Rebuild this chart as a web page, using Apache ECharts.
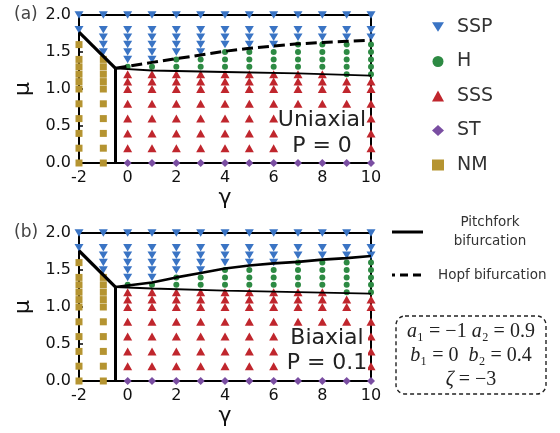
<!DOCTYPE html>
<html><head><meta charset="utf-8">
<script src="https://cdn.jsdelivr.net/npm/echarts@6/dist/echarts.min.js"></script>
<style>html,body{margin:0;padding:0;background:#fff}#c{width:560px;height:433px}</style>
</head><body><div id="c"></div>
<script>
// ---------- data ----------
// each entry: [gamma, [mu values in that column]]
const SSP_A = [[-2,[2.0,1.8]],[-1,[2.0,1.8,1.7,1.6,1.5]],[0,[2.0,1.8,1.7,1.6,1.5,1.4]],[1,[2.0,1.8,1.7,1.6,1.5,1.4]],
  [2,[2.0,1.8,1.7,1.6,1.5]],[3,[2.0,1.8,1.7,1.6,1.5]],[4,[2.0,1.8,1.7,1.6]],[5,[2.0,1.8,1.7,1.6]],[6,[2.0,1.8,1.7,1.6]],
  [7,[2.0,1.8,1.7]],[8,[2.0,1.8,1.7]],[9,[2.0,1.8,1.7]],[10,[2.0,1.8,1.7]]];
const H_A = [[0,[1.3]],[1,[1.3]],[2,[1.4,1.3]],[3,[1.4,1.3]],[4,[1.5,1.4,1.3]],[5,[1.5,1.4,1.3]],[6,[1.5,1.4,1.3]],
  [7,[1.6,1.5,1.4,1.3]],[8,[1.6,1.5,1.4,1.3]],[9,[1.6,1.5,1.4,1.3,1.2]],[10,[1.6,1.5,1.4,1.3,1.2]]];
const SSS_A = [[0,[1.2,1.1,1.0,0.8,0.6,0.4,0.2]],[1,[1.2,1.1,1.0,0.8,0.6,0.4,0.2]],[2,[1.2,1.1,1.0,0.8,0.6,0.4,0.2]],
  [3,[1.2,1.1,1.0,0.8,0.6,0.4,0.2]],[4,[1.2,1.1,1.0,0.8,0.6,0.4,0.2]],[5,[1.2,1.1,1.0,0.8,0.6,0.4,0.2]],
  [6,[1.2,1.1,1.0,0.8,0.6,0.4,0.2]],[7,[1.2,1.1,1.0,0.8,0.6,0.4,0.2]],[8,[1.2,1.1,1.0,0.8,0.6,0.4,0.2]],
  [9,[1.1,1.0,0.8,0.6,0.4,0.2]],[10,[1.1,1.0,0.8,0.6,0.4,0.2]]];
const ST_A = [[0,[0]],[1,[0]],[2,[0]],[3,[0]],[4,[0]],[5,[0]],[6,[0]],[7,[0]],[8,[0]],[9,[0]],[10,[0]]];
const NM_A = [[-2,[1.6,1.4,1.3,1.2,1.1,1.0,0.8,0.6,0.4,0.2,0]],[-1,[1.4,1.3,1.2,1.1,1.0,0.8,0.6,0.4,0.2,0]]];

const SSP_B = [[-2,[2.0,1.8]],[-1,[2.0,1.8,1.7,1.6,1.5]],[0,[2.0,1.8,1.7,1.6,1.5,1.4]],[1,[2.0,1.8,1.7,1.6,1.5,1.4]],
  [2,[2.0,1.8,1.7,1.6,1.5]],[3,[2.0,1.8,1.7,1.6,1.5]],[4,[2.0,1.8,1.7,1.6]],[5,[2.0,1.8,1.7,1.6]],[6,[2.0,1.8,1.7,1.6]],
  [7,[2.0,1.8,1.7]],[8,[2.0,1.8,1.7]],[9,[2.0,1.8,1.7]],[10,[2.0,1.8,1.7]]];
const H_B = [[0,[1.3]],[1,[1.3]],[2,[1.4,1.3]],[3,[1.4,1.3]],[4,[1.5,1.4,1.3]],[5,[1.5,1.4,1.3]],[6,[1.5,1.4,1.3]],
  [7,[1.6,1.5,1.4,1.3]],[8,[1.6,1.5,1.4,1.3]],[9,[1.6,1.5,1.4,1.3,1.2]],[10,[1.6,1.5,1.4,1.3,1.2]]];
const SSS_B = SSS_A.map(c => [c[0], c[1].slice()]);
const ST_B = ST_A.map(c => [c[0], c[1].slice()]);
const NM_B = [[-2,[1.6,1.4,1.3,1.2,1.1,1.0,0.8,0.6,0.4,0.2,0]],[-1,[1.4,1.3,1.2,1.1,1.0,0.8,0.6,0.4,0.2,0]]];

// bifurcation curves
const PITCH_LEFT_A = [[-2,1.77],[-0.5,1.28]];
const PITCH_VERT_A = [[-0.5,0],[-0.5,1.28]];
const PITCH_LOW_A  = [[-0.5,1.28],[1,1.25],[4,1.23],[7,1.21],[10,1.18]];
const HOPF_A       = [[-0.5,1.28],[1,1.36],[2,1.41],[3,1.46],[4,1.51],[5,1.55],[6,1.58],[7,1.61],[8,1.63],[9,1.645],[10,1.66]];

const PITCH_LEFT_B = [[-2,1.76],[-0.5,1.27]];
const PITCH_VERT_B = [[-0.5,0],[-0.5,1.27]];
const PITCH_LOW_B  = [[-0.5,1.27],[1,1.25],[4,1.22],[7,1.20],[10,1.18]];
const PITCH_UP_B   = [[-0.5,1.27],[1,1.33],[2,1.40],[3,1.46],[4,1.52],[5,1.56],[6,1.59],[7,1.61],[8,1.64],[9,1.66],[10,1.69]];

const X_MIN = -2, X_MAX = 10, X_STEP = 2;
const Y_MIN = 0, Y_MAX = 2, Y_STEP = 0.5;
const NAMES = ['SSP','H','SSS','ST','NM'];

// ---------- chart ----------
function expand(cols){ const out=[]; cols.forEach(c=>c[1].forEach(m=>out.push([c[0],m]))); return out; }
const FONT = 'DejaVu Sans';
const COLORS = {SSP:'#3a74c4', H:'#2d8a43', SSS:'#c0262d', ST:'#7a4ea2', NM:'#b59431'};
const DOWN_TRI = 'path://M0,0L10,0L5,8Z';
const SYM = {SSP:DOWN_TRI, H:'circle', SSS:'triangle', ST:'diamond', NM:'rect'};
const SIZE = {SSP:[9,7.5], H:6, SSS:[9,8], ST:[8,8], NM:[7,7]};

function scatterSeries(name, data, gi){
  return {type:'scatter', name, xAxisIndex:gi, yAxisIndex:gi, data:expand(data),
    symbol:SYM[name], symbolSize:SIZE[name], itemStyle:{color:COLORS[name], opacity:1},
    clip:false, z:3, silent:true, animation:false};
}
function lineSeries(data, gi, width, dashed){
  return {type:'line', xAxisIndex:gi, yAxisIndex:gi, data, symbol:'none', clip:false, z:5,
    lineStyle:{color:'#000', width, type: dashed ? [11,5] : 'solid', cap:'butt'}, silent:true, animation:false};
}
function xAxis(gi){
  return {type:'value', gridIndex:gi, min:X_MIN, max:X_MAX, interval:X_STEP,
    name:'γ', nameLocation:'middle', nameGap:8, nameTextStyle:{fontFamily:FONT, fontSize:22, color:'#111'},
    axisLine:{show:true, onZero:false, lineStyle:{color:'#000', width:2}}, axisTick:{show:false},
    axisLabel:{fontFamily:FONT, fontSize:16, color:'#111', margin:7}, splitLine:{show:false}};
}
function yAxis(gi){
  return {type:'value', gridIndex:gi, min:Y_MIN, max:Y_MAX, interval:Y_STEP,
    name:'μ', nameLocation:'middle', nameGap:26, nameRotate:90, nameTextStyle:{fontFamily:FONT, fontSize:22, color:'#111'},
    axisLine:{show:true, onZero:false, lineStyle:{color:'#000', width:2}}, axisTick:{show:true, inside:true, length:4, lineStyle:{color:'#000', width:1.5}},
    axisLabel:{fontFamily:FONT, fontSize:16, color:'#111', margin:8, formatter:v=>v.toFixed(1)}, splitLine:{show:false}};
}

const series = [];
[[SSP_A,H_A,SSS_A,ST_A,NM_A],[SSP_B,H_B,SSS_B,ST_B,NM_B]].forEach((sets,gi)=>{
  NAMES.forEach((n,i)=>series.push(scatterSeries(n, sets[i], gi)));
});
series.push(lineSeries(PITCH_LEFT_A,0,3.2,false), lineSeries(PITCH_VERT_A,0,3,false),
            lineSeries(PITCH_LOW_A,0,1.8,false), lineSeries(HOPF_A,0,3,true));
series.push(lineSeries(PITCH_LEFT_B,1,3.2,false), lineSeries(PITCH_VERT_B,1,3,false),
            lineSeries(PITCH_LOW_B,1,1.8,false), lineSeries(PITCH_UP_B,1,2.6,false));

function whiteBox(x,y,w,h){ return {type:'rect', z:9, shape:{x,y,width:w,height:h}, style:{fill:'#fff'}}; }
const chart = echarts.init(document.getElementById('c'), null, {renderer:'canvas'});
chart.setOption({
  animation:false,
  backgroundColor:'#fff',
  grid:[{left:79, top:15, width:292, height:148, show:true, borderColor:'#000', borderWidth:2, backgroundColor:'transparent'},
        {left:79, top:233, width:292, height:148, show:true, borderColor:'#000', borderWidth:2, backgroundColor:'transparent'}],
  xAxis:[xAxis(0), xAxis(1)],
  yAxis:[yAxis(0), yAxis(1)],
  legend:{orient:'vertical', left:427, top:12, itemWidth:12, itemHeight:11, itemGap:14.5,
    selectedMode:false, textStyle:{fontFamily:FONT, fontSize:19, color:'#333', lineHeight:20, padding:[0,0,0,8]},
    data:[{name:'SSP', icon:DOWN_TRI},{name:'H', icon:'path://M5,0A5,5,0,1,1,4.99,0Z'},{name:'SSS', icon:'triangle'},{name:'ST', icon:'diamond'},{name:'NM', icon:'rect'}]},
  series,
  graphic:[
    {type:'text', style:{x:14, y:15, text:'(a)', font:'17px "DejaVu Sans"', fill:'#444', verticalAlign:'middle'}},
    {type:'text', style:{x:14, y:233, text:'(b)', font:'17px "DejaVu Sans"', fill:'#444', verticalAlign:'middle'}},
    whiteBox(280,109,86,48),
    whiteBox(286,327,82,48),
    {type:'text', z:10, style:{x:322, y:120, text:'Uniaxial', font:'22px "DejaVu Sans"', fill:'#222', align:'center', verticalAlign:'middle'}},
    {type:'text', z:10, style:{x:322, y:146, text:'P = 0', font:'22px "DejaVu Sans"', fill:'#222', align:'center', verticalAlign:'middle'}},
    {type:'text', z:10, style:{x:327, y:338, text:'Biaxial', font:'22px "DejaVu Sans"', fill:'#222', align:'center', verticalAlign:'middle'}},
    {type:'text', z:10, style:{x:327, y:363, text:'P = 0.1', font:'22px "DejaVu Sans"', fill:'#222', align:'center', verticalAlign:'middle'}},
    {type:'line', shape:{x1:392, y1:232, x2:423, y2:232}, style:{stroke:'#000', lineWidth:3}},
    {type:'text', style:{x:490, y:232, text:'Pitchfork\nbifurcation', font:'13.5px "DejaVu Sans"', lineHeight:19, fill:'#333', align:'center', verticalAlign:'middle'}},
    {type:'line', shape:{x1:392, y1:275, x2:423, y2:275}, style:{stroke:'#000', lineWidth:3, lineDash:[8,5], lineDashOffset:5}},
    {type:'text', style:{x:438, y:275, text:'Hopf bifurcation', font:'13.5px "DejaVu Sans"', fill:'#333', verticalAlign:'middle'}},
    {type:'rect', shape:{x:396, y:316, width:150, height:78, r:9}, style:{fill:'none', stroke:'#222', lineWidth:1.4, lineDash:[4,3]}},
    {type:'text', style:{x:471, y:332, align:'center', verticalAlign:'middle',
      text:'{i|a}{r|₁ = −1 }{i|a}{r|₂ = 0.9}',
      rich:{i:{fontFamily:'Liberation Serif', fontStyle:'italic', fontSize:20, fill:'#222'}, r:{fontFamily:'Liberation Serif', fontSize:20, fill:'#222'}}}},
    {type:'text', style:{x:471, y:356, align:'center', verticalAlign:'middle',
      text:'{i|b}{r|₁ = 0  }{i|b}{r|₂ = 0.4}',
      rich:{i:{fontFamily:'Liberation Serif', fontStyle:'italic', fontSize:20, fill:'#222'}, r:{fontFamily:'Liberation Serif', fontSize:20, fill:'#222'}}}},
    {type:'text', style:{x:471, y:380, align:'center', verticalAlign:'middle',
      text:'{i|ζ}{r| = −3}',
      rich:{i:{fontFamily:'Liberation Serif', fontStyle:'italic', fontSize:20, fill:'#222'}, r:{fontFamily:'Liberation Serif', fontSize:20, fill:'#222'}}}}
  ]
});
</script></body></html>
